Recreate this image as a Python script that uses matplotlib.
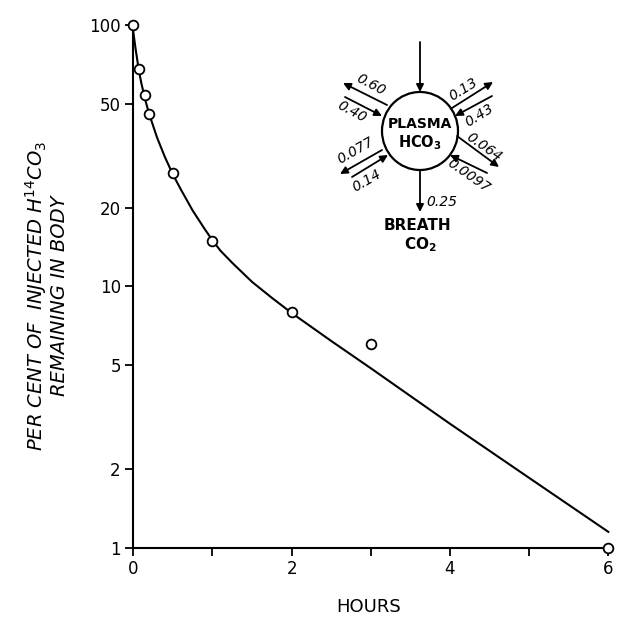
import numpy as np
import matplotlib
matplotlib.use('Agg')
from matplotlib import pyplot as plt
from matplotlib.patches import Ellipse

plt.rcParams['font.family'] = ['DejaVu Sans']
plt.rcParams['mathtext.fontset'] = 'dejavusans'
plt.rcParams['mathtext.default'] = 'regular'

# measured points (hours, per cent remaining)
hours = [0.0, 0.067, 0.15, 0.2, 0.5, 1.0, 2.0, 3.0, 6.0]
percent = [100, 68, 54, 45.5, 27.2, 14.9, 8.0, 6.0, 1.0]

# fitted curve
curve_hours = [0.0, 0.03, 0.067, 0.1, 0.15, 0.2, 0.3, 0.4, 0.5, 0.6, 0.75, 0.9,
               1.0, 1.1, 1.25, 1.5, 1.75, 2.0, 2.5, 3.0, 4.0, 5.0, 6.0]
curve_percent = [94, 80.6, 68, 60.2, 51.8, 45.7, 37.1, 31.2, 26.8, 23.5, 19.5, 16.6,
                 15.0, 13.7, 12.3, 10.4, 9.04, 7.91, 6.18, 4.86, 2.98, 1.85, 1.15]

xticks = [0, 1, 2, 3, 4, 5, 6]
xtick_labels = ['0', '', '2', '', '4', '', '6']
yticks = [1, 2, 5, 10, 20, 50, 100]
ytick_labels = ['1', '2', '5', '10', '20', '50', '100']

W, H = 617, 624
fig = plt.figure(figsize=(W / 100, H / 100), dpi=100)
ax = fig.add_axes([133.3 / W, 1 - 547.7 / H, 475 / W, 522.7 / H])

ax.plot(curve_hours, curve_percent, color='k', lw=1.5, clip_on=False)
ax.plot(hours, percent, 'o', ms=7, mfc='white', mec='k', mew=1.3, clip_on=False, zorder=5)

ax.set_yscale('log')
ax.set_xlim(0, 6)
ax.set_ylim(1, 100)
ax.set_xticks(xticks)
ax.set_xticklabels(xtick_labels)
ax.set_yticks(yticks)
ax.set_yticklabels(ytick_labels)
ax.yaxis.set_minor_locator(matplotlib.ticker.NullLocator())
ax.tick_params(axis='both', direction='out', length=6, width=1.3, labelsize=12, pad=3)
for s in ['top', 'right']:
    ax.spines[s].set_visible(False)
for s in ['left', 'bottom']:
    ax.spines[s].set_linewidth(1.5)

fig.text(369 / W, 1 - 607 / H, 'HOURS', ha='center', va='center', fontsize=13)
fig.text(46 / W, 1 - 296 / H,
         'PER CENT OF  INJECTED H$^{\\mathit{14}}$CO$_{\\mathit{3}}$\nREMAINING IN BODY',
         rotation=90, ha='center', va='center', fontsize=14, style='italic',
         multialignment='center', linespacing=1.05)


# compartment diagram, placed in figure pixels (from top-left)
def px(x, y):
    return (x / W, 1 - y / H)


fig.patches.append(Ellipse(px(420, 131), 76 / W, 78 / H, transform=fig.transFigure,
                           fill=False, ec='k', lw=1.6))
fig.text(*px(420, 124), 'PLASMA', ha='center', va='center', fontsize=10, fontweight='bold')
fig.text(*px(420, 143), 'HCO$_3$', ha='center', va='center', fontsize=10.5, fontweight='bold')


def arrow(start, end):
    ax.annotate('', xy=px(*end), xytext=px(*start), xycoords='figure fraction',
                textcoords='figure fraction',
                arrowprops=dict(arrowstyle='-|>', color='k', lw=1.3, mutation_scale=11,
                                shrinkA=0, shrinkB=0))


arrow((420, 42), (420, 92))
arrow((420, 170), (420, 212))
arrow((452, 108), (493, 82))
arrow((492, 96), (455, 116))
arrow((457, 136), (499, 167))
arrow((487, 173), (450, 155))
arrow((387, 105), (343, 83))
arrow((345, 97), (382, 116))
arrow((382, 150), (340, 174))
arrow((352, 177), (388, 155))

flow_labels = [('0.13', 463, 89, 32), ('0.43', 479, 115, 32),
               ('0.064', 484, 147, -35), ('0.0097', 469, 176, -35),
               ('0.60', 371, 85, -28), ('0.40', 352, 112, -28),
               ('0.077', 356, 151, 30), ('0.14', 367, 181, 30),
               ('0.25', 442, 202, 0)]
for txt, x, y, rot in flow_labels:
    fig.text(*px(x, y), txt, ha='center', va='center', fontsize=10, style='italic',
             rotation=rot, rotation_mode='anchor')

fig.text(*px(417, 225), 'BREATH', ha='center', va='center', fontsize=11, fontweight='bold')
fig.text(*px(420, 245), 'CO$_2$', ha='center', va='center', fontsize=11, fontweight='bold')

plt.savefig('out.png', dpi=100)
